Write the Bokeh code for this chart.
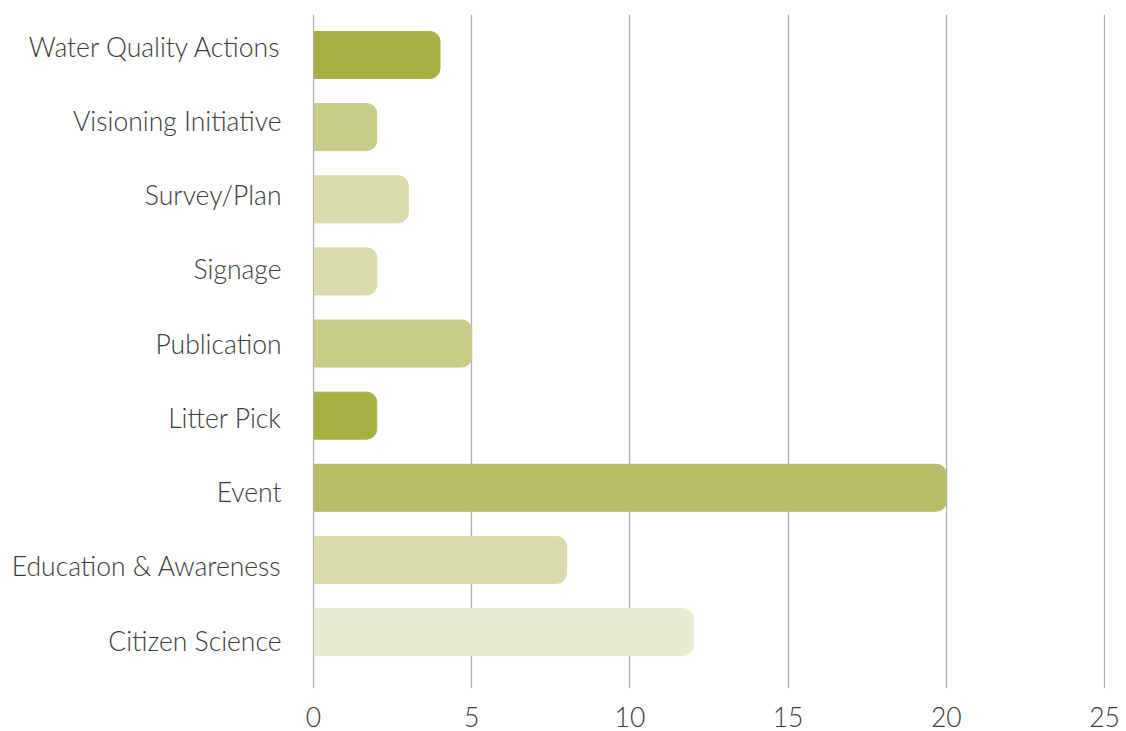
from bokeh.plotting import figure
from bokeh.models import Range1d, FixedTicker, ColumnDataSource, LinearAxis
from bokeh.embed import file_html
from bokeh.resources import INLINE

categories = ["Water Quality Actions", "Visioning Initiative", "Survey/Plan", "Signage",
              "Publication", "Litter Pick", "Event", "Education & Awareness", "Citizen Science"]
values = [4, 2, 3, 2, 5, 2, 20, 8, 12]
colors = ["#A9B043", "#C6CB88", "#DADBAC", "#DADBAC", "#C6CB88",
          "#A9B043", "#B8BD69", "#DADBAC", "#E8EAD2"]
x_ticks = [0, 5, 10, 15, 20, 25]

FONT = "Lato Light"
TXT = "#3A3A3A"

pos = list(range(len(categories)))
src = ColumnDataSource(dict(y=pos, right=values, color=colors))

p = figure(width=1120, height=731, output_backend="svg", toolbar_location=None,
           x_range=Range1d(-0.03, 25.03), y_range=Range1d(8.783, -0.5615),
           y_axis_location=None,
           min_border_left=312, min_border_right=15, min_border_top=14, min_border_bottom=43)
p.extra_y_ranges = {"labels": Range1d(8.646, -0.431)}
p.outline_line_color = None
p.background_fill_color = "white"
p.border_fill_color = "white"

p.xgrid.ticker = FixedTicker(ticks=x_ticks)
p.xgrid.grid_line_color = "#ADADAD"
p.xgrid.grid_line_width = 1.3
p.ygrid.grid_line_color = None

p.hbar(y="y", left=0.03, right="right", height=0.652, color="color", source=src,
       border_radius=(0, 10, 10, 0))

p.xaxis.ticker = FixedTicker(ticks=x_ticks)
p.xaxis.axis_line_color = None
p.xaxis.major_tick_line_color = None
p.xaxis.minor_tick_line_color = None
p.xaxis.major_label_text_font = FONT
p.xaxis.major_label_text_font_size = "26.5px"
p.xaxis.major_label_text_color = TXT
p.xaxis.major_label_standoff = 12

yax = LinearAxis(y_range_name="labels", ticker=FixedTicker(ticks=pos),
                 major_label_overrides={i: c for i, c in enumerate(categories)})
yax.axis_line_color = None
yax.major_tick_line_color = None
yax.minor_tick_line_color = None
yax.major_label_text_font = FONT
yax.major_label_text_font_size = "26.5px"
yax.major_label_text_color = TXT
yax.major_label_standoff = 25
p.add_layout(yax, "left")

open("out.html", "w").write(file_html(p, INLINE))
